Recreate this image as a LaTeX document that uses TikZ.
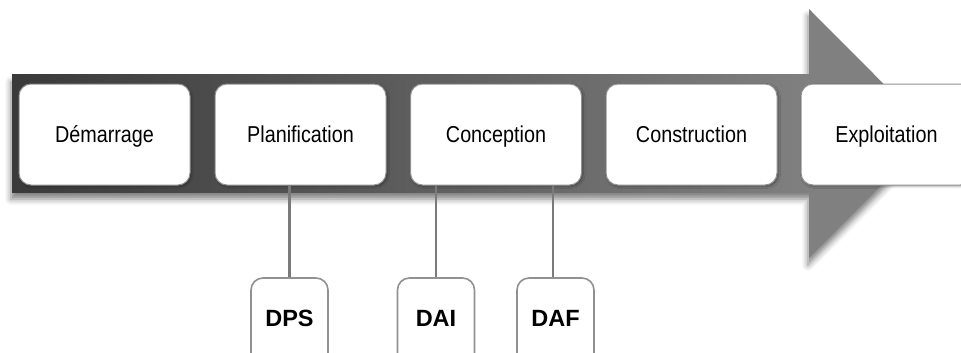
\documentclass[tikz,border=0pt]{standalone}
\usepackage{fontspec}
\setmainfont{Liberation Sans}
\newfontfamily\narrowfont[FakeStretch=0.86]{Liberation Sans}
\usetikzlibrary{shadows.blur}
\definecolor{arrowdark}{RGB}{58,58,58}
\definecolor{arrowlight}{RGB}{128,128,128}
\definecolor{boxline}{RGB}{145,145,145}
\definecolor{connline}{RGB}{122,122,122}
\tikzset{
  stagebox/.style={draw=boxline, line width=1pt, fill=white, rounded corners=12pt,
    minimum width=171pt, minimum height=101pt, inner sep=0pt,
    text height=17pt, text depth=2pt,
    font=\narrowfont\fontsize{23}{25}\selectfont,
    blur shadow={shadow xshift=1.5pt, shadow yshift=-1.5pt, shadow blur radius=2pt, shadow opacity=35}},
  docbox/.style={draw=boxline, line width=1.6pt, fill=white, rounded corners=12pt,
    minimum width=77pt, minimum height=90pt, inner sep=0pt,
    text height=17pt, text depth=10pt,
    font=\bfseries\fontsize{23.5}{25}\selectfont},
  conn/.style={draw=connline, line width=2.4pt},
}
\begin{document}
\begin{tikzpicture}[x=1pt,y=-1pt]
\useasboundingbox (0,0) rectangle (961,353);
\clip (0,0) rectangle (961,353);
% arrow shadow
\path[blur shadow={shadow xshift=-1pt, shadow yshift=-7pt, shadow blur radius=6pt, shadow opacity=50}]
  (12,75) -- (809,75) -- (809,9) -- (933,133.5) -- (809,258) -- (809,192) -- (12,192) -- cycle;
% arrow body and head
\shade[left color=arrowdark, right color=arrowlight] (12,75) rectangle (810,192);
\fill[arrowlight] (809,75) -- (809,9) -- (933,133.5) -- (809,258) -- (809,192) -- cycle;
% stages
\node[stagebox] (dem) at (104.5,134.5) {Démarrage};
\node[stagebox] (plan) at (300.5,134.5) {Planification};
\node[stagebox] (conc) at (496,134.5) {Conception};
\node[stagebox] (cons) at (691.5,134.5) {Construction};
\node[stagebox] (expl) at (886.5,134.5) {Exploitation};
% documents
\node[docbox] (dps) at (289.5,323) {DPS};
\node[docbox] (dai) at (436,323) {DAI};
\node[docbox] (daf) at (555.5,323) {DAF};
% connectors
\draw[conn] (dps.north) -- (dps.north |- plan.south);
\draw[conn] (dai.north) -- (dai.north |- conc.south);
\draw[conn] ([xshift=-2.5pt]daf.north) -- ([xshift=-2.5pt]daf.north |- conc.south);
\end{tikzpicture}
\end{document}
